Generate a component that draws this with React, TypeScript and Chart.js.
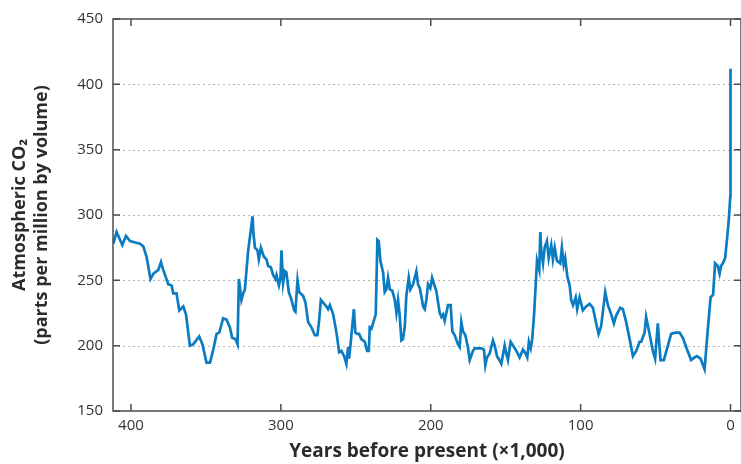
import React, { useEffect, useRef } from 'react';
import { Chart, registerables } from 'chart.js';

Chart.register(...registerables);

// Years before present (thousands)
const yearsKa = [
  411.8, 409.6, 405.8, 403.3, 400.7, 394.0, 391.8, 389.6, 387.0, 385.1, 381.8, 380.0, 378.5, 375.1, 372.9, 371.8,
  369.6, 367.8, 365.1, 363.3, 360.7, 358.5, 354.5, 352.3, 349.6, 347.3, 345.1, 342.9, 341.1, 338.5, 336.3, 334.0,
  332.5, 330.3, 328.9, 328.0, 326.3, 325.1, 324.0, 321.8, 320.3, 318.9, 318.3, 317.3, 315.6, 314.7, 313.3, 311.3,
  309.6, 308.5, 306.7, 305.1, 303.6, 302.9, 301.3, 300.3, 299.6, 298.5, 297.3, 296.3, 294.7, 292.9, 291.1, 290.3,
  288.9, 287.8, 285.1, 283.6, 281.8, 279.6, 277.3, 275.6, 274.5, 273.3, 271.1, 269.6, 268.5, 267.3, 265.1, 262.9,
  261.1, 259.6, 257.8, 256.3, 255.1, 254.5, 253.6, 251.3, 250.3, 249.1, 247.8, 246.3, 244.0, 242.5, 241.3, 240.7,
  239.6, 238.0, 236.7, 235.6, 234.7, 233.6, 231.8, 230.7, 229.6, 228.5, 227.3, 225.6, 224.0, 222.9, 221.8, 220.7,
  219.6, 218.5, 217.3, 216.3, 214.7, 213.6, 211.8, 209.6, 208.5, 207.3, 206.3, 205.1, 204.0, 202.9, 201.8, 200.3,
  199.1, 197.8, 196.3, 195.1, 194.0, 192.9, 191.8, 190.7, 188.5, 186.7, 185.6, 184.0, 181.8, 180.7, 179.6, 178.5,
  176.9, 175.1, 174.0, 171.8, 170.7, 168.5, 166.3, 164.5, 163.6, 162.5, 160.7, 158.5, 157.3, 155.8, 154.7, 152.9,
  150.7, 149.6, 148.5, 146.7, 144.5, 142.9, 140.7, 138.5, 136.7, 135.6, 134.5, 133.3, 132.3, 131.0, 129.1, 127.6,
  126.9, 126.3, 125.1, 124.0, 122.5, 121.3, 119.6, 118.5, 117.3, 115.8, 113.6, 112.5, 111.3, 110.3, 108.9, 107.3,
  106.3, 105.1, 103.3, 102.3, 100.7, 98.5, 96.3, 94.0, 91.8, 89.6, 88.0, 86.3, 83.6, 81.8, 79.6, 77.8,
  76.3, 73.6, 71.8, 69.6, 67.3, 65.1, 62.9, 60.7, 59.6, 57.3, 56.3, 54.0, 51.8, 50.3, 48.5, 46.7,
  44.5, 41.8, 39.6, 36.9, 34.0, 31.8, 29.6, 26.3, 24.0, 22.5, 20.0, 17.3, 15.1, 13.3, 11.6, 10.3,
  8.5, 7.3, 6.3, 5.1, 3.6, 2.3, 1.1, 0.1, 0.0,
];

// Atmospheric CO2 (ppmv)
const co2Ppm = [
  278, 287, 277, 284, 280, 278, 276, 268, 251, 255, 258, 264, 258, 247, 246, 240,
  240, 227, 230, 224, 200, 201, 207, 201, 187, 187, 197, 209, 210, 221, 220, 214,
  206, 205, 201, 251, 235, 240, 243, 273, 286, 299, 286, 275, 273, 266, 275, 268,
  266, 261, 260, 254, 251, 254, 246, 251, 273, 248, 257, 256, 241, 235, 227, 226,
  250, 241, 238, 233, 218, 214, 208, 208, 219, 235, 232, 230, 228, 231, 224, 210,
  195, 196, 192, 186, 199, 190, 200, 228, 210, 209, 209, 205, 203, 196, 196, 214,
  213, 219, 224, 281, 280, 265, 256, 241, 243, 252, 243, 242, 235, 225, 235, 223,
  204, 205, 215, 238, 252, 243, 247, 257, 247, 244, 238, 230, 228, 235, 247, 244,
  252, 247, 242, 233, 225, 222, 224, 219, 231, 231, 211, 208, 201, 199, 218, 211,
  208, 198, 189, 196, 198, 198, 198, 197, 185, 191, 194, 204, 200, 192, 190, 186,
  200, 194, 189, 203, 199, 196, 191, 197, 194, 191, 203, 198, 205, 225, 265, 258,
  287, 273, 263, 275, 280, 267, 277, 266, 275, 265, 263, 275, 262, 267, 253, 246,
  235, 231, 237, 228, 237, 227, 230, 232, 229, 217, 209, 215, 241, 231, 224, 217,
  223, 229, 228, 218, 205, 192, 196, 203, 203, 210, 222, 209, 196, 190, 217, 189,
  189, 200, 209, 210, 210, 206, 199, 189, 191, 192, 190, 182, 213, 237, 239, 263,
  261, 255, 261, 263, 267, 282, 297, 315, 412,
];

const xTickValues = [0, 100, 200, 300, 400];
const yTickValues = [150, 200, 250, 300, 350, 400, 450];
const xTitle = 'Years before present (×1,000)';
const yTitle = ['Atmospheric CO₂', '(parts per million by volume)'];

const FONT = "'Open Sans', 'Noto Sans', 'DejaVu Sans', sans-serif";

const framePlugin = {
  id: 'frame',
  beforeDatasetsDraw(chart: any) {
    const { ctx, chartArea: a, scales } = chart;
    const y = scales.y;
    ctx.save();
    ctx.strokeStyle = '#b4b4b4';
    ctx.lineWidth = 1;
    ctx.setLineDash([2, 3]);
    for (const v of yTickValues) {
      if (v === 150 || v === 450) continue;
      const py = Math.round(y.getPixelForValue(v)) + 0.5;
      ctx.beginPath();
      ctx.moveTo(a.left, py);
      ctx.lineTo(a.right, py);
      ctx.stroke();
    }
    ctx.restore();
  },
  afterDraw(chart: any) {
    const { ctx, chartArea: a, scales } = chart;
    const x = scales.x;
    const y = scales.y;
    ctx.save();
    ctx.strokeStyle = '#4d4d4d';
    ctx.lineWidth = 1.5;
    ctx.setLineDash([]);
    ctx.strokeRect(a.left, a.top, a.right - a.left, a.bottom - a.top);
    ctx.beginPath();
    for (const v of xTickValues) {
      const px = x.getPixelForValue(v);
      ctx.moveTo(px, a.bottom);
      ctx.lineTo(px, a.bottom - 7);
      ctx.moveTo(px, a.top);
      ctx.lineTo(px, a.top + 7);
    }
    for (const v of yTickValues) {
      const py = y.getPixelForValue(v);
      ctx.moveTo(a.left, py);
      ctx.lineTo(a.left + 7, py);
      ctx.moveTo(a.right, py);
      ctx.lineTo(a.right - 7, py);
    }
    ctx.stroke();
    ctx.restore();
  },
};

export default function App() {
  const ref = useRef<HTMLCanvasElement | null>(null);

  useEffect(() => {
    if (!ref.current) return;
    const points = yearsKa.map((yr, i) => ({ x: yr, y: co2Ppm[i] }));
    const chart = new Chart(ref.current, {
      type: 'line',
      data: {
        datasets: [
          {
            data: points,
            borderColor: '#0b7cc1',
            borderWidth: 2.7,
            pointRadius: 0,
            tension: 0,
            fill: false,
          },
        ],
      },
      options: {
        animation: false,
        responsive: true,
        maintainAspectRatio: false,
        layout: { padding: { top: 16, right: 0, left: 0, bottom: 0 } },
        plugins: { legend: { display: false }, tooltip: { enabled: false } },
        scales: {
          x: {
            type: 'linear',
            reverse: true,
            min: -7,
            max: 412,
            afterBuildTicks: (scale: any) => {
              scale.ticks = xTickValues.map((v) => ({ value: v }));
            },
            afterFit: (scale: any) => {
              scale.height = 53;
            },
            grid: { display: false, drawTicks: false },
            border: { display: false },
            ticks: {
              color: '#333',
              font: { family: FONT, size: 15 },
              padding: 6,
              maxRotation: 0,
              callback: (v: any) => String(v),
            },
            title: {
              display: true,
              text: xTitle,
              color: '#2b2b2b',
              font: { family: FONT, size: 19, weight: 'bold', lineHeight: 1.2 },
              padding: { top: 0, bottom: 1 },
            },
          },
          y: {
            type: 'linear',
            min: 150,
            max: 450,
            afterBuildTicks: (scale: any) => {
              scale.ticks = yTickValues.map((v) => ({ value: v }));
            },
            afterFit: (scale: any) => {
              scale.width = 113;
            },
            grid: { display: false, drawTicks: false },
            border: { display: false },
            ticks: {
              color: '#333',
              font: { family: FONT, size: 15 },
              padding: 10,
              callback: (v: any) => String(v),
            },
            title: {
              display: true,
              text: yTitle,
              color: '#2b2b2b',
              font: { family: FONT, size: 18, weight: 'bold', lineHeight: 1.222 },
              padding: { top: 9, bottom: 0 },
            },
          },
        },
      },
      plugins: [framePlugin],
    });
    return () => chart.destroy();
  }, []);

  return (
    <div style={{ position: 'absolute', left: 0, top: 0, width: 741, height: 464, background: '#fff' }}>
      <canvas ref={ref} />
    </div>
  );
}
